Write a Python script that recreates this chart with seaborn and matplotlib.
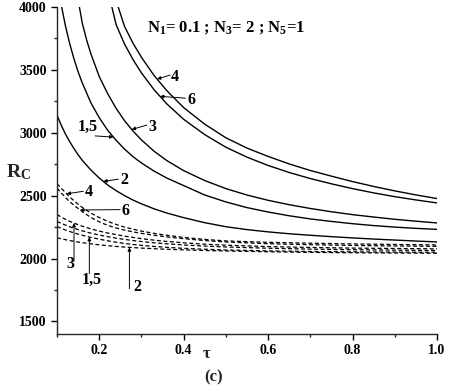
import numpy as np
import pandas as pd
import matplotlib
matplotlib.use("Agg")
import matplotlib.pyplot as plt
import seaborn as sns
from matplotlib.ticker import MultipleLocator

# ---------------- data ----------------
s4_tau = [0.245, 0.26, 0.28, 0.30, 0.33, 0.36, 0.40, 0.45, 0.50, 0.55, 0.60, 0.65, 0.70, 0.75, 0.80, 0.85, 0.90, 0.95, 1.00]
s4_R = [4000, 3845, 3712, 3600, 3455, 3335, 3200, 3068, 2960, 2878, 2812, 2752, 2700, 2655, 2612, 2573, 2538, 2506, 2477]

s6_tau = [0.230, 0.24, 0.26, 0.28, 0.30, 0.33, 0.36, 0.40, 0.45, 0.50, 0.55, 0.60, 0.65, 0.70, 0.75, 0.80, 0.85, 0.90, 0.95, 1.00]
s6_R = [4000, 3860, 3705, 3582, 3476, 3342, 3230, 3107, 2985, 2885, 2806, 2740, 2684, 2636, 2594, 2556, 2522, 2492, 2466, 2442]

s3_tau = [0.153, 0.16, 0.17, 0.18, 0.20, 0.22, 0.24, 0.26, 0.28, 0.30, 0.33, 0.36, 0.40, 0.45, 0.50, 0.55, 0.60, 0.65, 0.70, 0.75, 0.80, 0.85, 0.90, 0.95, 1.00]
s3_R = [4000, 3870, 3740, 3630, 3447, 3311, 3194, 3096, 3014, 2943, 2853, 2779, 2699, 2620, 2556, 2505, 2463, 2428, 2398, 2372, 2349, 2330, 2312, 2297, 2283]

s15_tau = [0.111, 0.12, 0.13, 0.14, 0.15, 0.16, 0.18, 0.20, 0.22, 0.24, 0.26, 0.28, 0.30, 0.33, 0.36, 0.40, 0.45, 0.50, 0.55, 0.60, 0.65, 0.70, 0.75, 0.80, 0.85, 0.90, 0.95, 1.00]
s15_R = [4000, 3850, 3710, 3590, 3485, 3395, 3240, 3120, 3020, 2940, 2870, 2810, 2760, 2695, 2640, 2580, 2505, 2450, 2405, 2370, 2340, 2315, 2295, 2277, 2262, 2250, 2240, 2232]

s2_tau = [0.10, 0.11, 0.12, 0.13, 0.14, 0.15, 0.16, 0.18, 0.20, 0.22, 0.24, 0.26, 0.28, 0.30, 0.33, 0.36, 0.40, 0.45, 0.50, 0.55, 0.60, 0.65, 0.70, 0.75, 0.80, 0.85, 0.90, 0.95, 1.00]
s2_R = [3140, 3060, 2990, 2930, 2875, 2825, 2780, 2705, 2640, 2585, 2540, 2500, 2465, 2435, 2395, 2362, 2325, 2285, 2253, 2230, 2212, 2197, 2185, 2174, 2164, 2155, 2147, 2139, 2132]

d_tau = [0.10, 0.11, 0.12, 0.13, 0.14, 0.15, 0.16, 0.18, 0.20, 0.22, 0.24, 0.26, 0.28, 0.30, 0.33, 0.36, 0.40, 0.45, 0.50, 0.60, 0.70, 0.80, 0.90, 1.00]
d4_R = [2595, 2560, 2525, 2490, 2460, 2432, 2406, 2362, 2326, 2296, 2271, 2250, 2233, 2218, 2200, 2185, 2168, 2152, 2140, 2129, 2122, 2116, 2112, 2108]
d6_R = [2560, 2522, 2486, 2452, 2424, 2398, 2372, 2327, 2292, 2264, 2243, 2226, 2212, 2200, 2185, 2172, 2158, 2143, 2132, 2118, 2110, 2104, 2100, 2097]
d3_R = [2350, 2330, 2312, 2296, 2282, 2269, 2257, 2236, 2218, 2203, 2190, 2178, 2168, 2158, 2146, 2136, 2125, 2114, 2106, 2095, 2088, 2083, 2080, 2077]
dX_R = [2295, 2280, 2266, 2253, 2241, 2230, 2220, 2202, 2187, 2174, 2162, 2152, 2143, 2135, 2125, 2117, 2108, 2099, 2092, 2082, 2075, 2070, 2067, 2064]
d15_R = [2255, 2240, 2227, 2215, 2204, 2194, 2185, 2168, 2154, 2141, 2130, 2120, 2112, 2105, 2096, 2089, 2081, 2074, 2068, 2061, 2056, 2053, 2051, 2050]
d2_R = [2165, 2157, 2150, 2143, 2137, 2131, 2126, 2117, 2109, 2102, 2096, 2091, 2087, 2083, 2078, 2074, 2069, 2064, 2060, 2054, 2049, 2046, 2044, 2042]

x_ticks = [0.2, 0.4, 0.6, 0.8, 1.0]
x_ticklabels = ["0.2", "0.4", "0.6", "0.8", "1.0"]
y_ticks = [1500, 2000, 2500, 3000, 3500, 4000]

# ---------------- style ----------------
sns.set_style("ticks")
SERIF = ["Liberation Serif", "DejaVu Serif"]
plt.rcParams["font.family"] = SERIF
plt.rcParams["font.weight"] = "bold"
plt.rcParams["mathtext.fontset"] = "custom"
plt.rcParams["mathtext.rm"] = "Liberation Serif:bold"
plt.rcParams["mathtext.it"] = "Liberation Serif:bold"
plt.rcParams["mathtext.bf"] = "Liberation Serif:bold"

fig = plt.figure(figsize=(4.49, 3.88), dpi=100)
ax = fig.add_axes([57 / 449, 1 - 334 / 388, 380 / 449, 327 / 388])

solid = [(s4_tau, s4_R), (s6_tau, s6_R), (s3_tau, s3_R), (s15_tau, s15_R), (s2_tau, s2_R)]
for t, r in solid:
    sns.lineplot(x=t, y=r, ax=ax, color="black", lw=1.0, sort=True)

dashed = [d4_R, d6_R, d3_R, dX_R, d15_R, d2_R]
for r in dashed:
    sns.lineplot(x=d_tau, y=r, ax=ax, color="black", lw=0.9, linestyle=(0, (3.2, 2.0)))

ax.set_xlim(0.1, 1.0)
ax.set_ylim(1400, 4000)
sns.despine(ax=ax)
ax.spines["left"].set_linewidth(1.0)
ax.spines["bottom"].set_linewidth(1.0)
ax.set_xticks(x_ticks)
ax.set_xticklabels(x_ticklabels)
ax.set_yticks(y_ticks)
ax.xaxis.set_minor_locator(MultipleLocator(0.1))
ax.yaxis.set_minor_locator(MultipleLocator(250))
ax.tick_params(which="major", direction="out", length=4.5, width=1.0, labelsize=10, pad=3, colors="black")
ax.tick_params(which="minor", direction="out", length=2.5, width=1.0)
for lab in ax.get_xticklabels() + ax.get_yticklabels():
    lab.set_fontweight("bold")
ax.set_xlabel("")
ax.set_ylabel("")

arrow_kw = dict(arrowstyle="-|>", color="black", lw=0.7, mutation_scale=5,
                shrinkA=0, shrinkB=0)
lab_kw = dict(fontsize=11.5, fontweight="bold", color="black")


def arrow_to(curve_t, curve_r, tip_t, start):
    tip = (tip_t, float(np.interp(tip_t, curve_t, curve_r)))
    ax.annotate("", xy=tip, xytext=start, xycoords="data", textcoords="data",
                arrowprops=arrow_kw)


# solid-curve labels
arrow_to(s4_tau, s4_R, 0.337, (0.368, 3459)); ax.text(0.3705, 3447, "4", va="center", ha="left", **lab_kw)
arrow_to(s6_tau, s6_R, 0.344, (0.404, 3275)); ax.text(0.4084, 3262, "6", va="center", ha="left", **lab_kw)
arrow_to(s3_tau, s3_R, 0.277, (0.3128, 3061)); ax.text(0.3159, 3042, "3", va="center", ha="left", **lab_kw)
arrow_to(s15_tau, s15_R, 0.2336, (0.1902, 2975)); ax.text(0.1735, 3050, "1,5", va="center", ha="center", **lab_kw)
arrow_to(s2_tau, s2_R, 0.2098, (0.2454, 2631)); ax.text(0.2495, 2622, "2", va="center", ha="left", **lab_kw)

# dashed-curve labels
arrow_to(d_tau, d4_R, 0.123, (0.1624, 2535)); ax.text(0.1664, 2530, "4", va="center", ha="left", **lab_kw)
arrow_to(d_tau, d6_R, 0.1546, (0.2495, 2389)); ax.text(0.2518, 2378, "6", va="center", ha="left", **lab_kw)
arrow_to(d_tau, d3_R, 0.1403, (0.1403, 1979)); ax.text(0.132, 1960, "3", va="center", ha="center", **lab_kw)
arrow_to(d_tau, d15_R, 0.1766, (0.1766, 1880)); ax.text(0.183, 1830, "1,5", va="center", ha="center", **lab_kw)
arrow_to(d_tau, d2_R, 0.2715, (0.2715, 1760)); ax.text(0.2898, 1772, "2", va="center", ha="center", **lab_kw)

ax.text(0.3135, 3833, r"N$_\mathregular{1}$= 0.1 ; N$_\mathregular{3}$= 2 ; N$_\mathregular{5}$=1",
        va="center", ha="left", fontsize=12, fontweight="bold", color="black")

fig.text(18 / 449, 1 - 172 / 388, r"R$_\mathregular{C}$", fontsize=14, fontweight="bold",
         ha="center", va="center")
fig.text(207 / 449, 1 - 354 / 388, "τ", fontsize=12, fontweight="bold", ha="center", va="center")
fig.text(214 / 449, 1 - 377 / 388, "(c)", fontsize=12, fontweight="bold", ha="center", va="center")

fig.savefig("out.png", dpi=100)
